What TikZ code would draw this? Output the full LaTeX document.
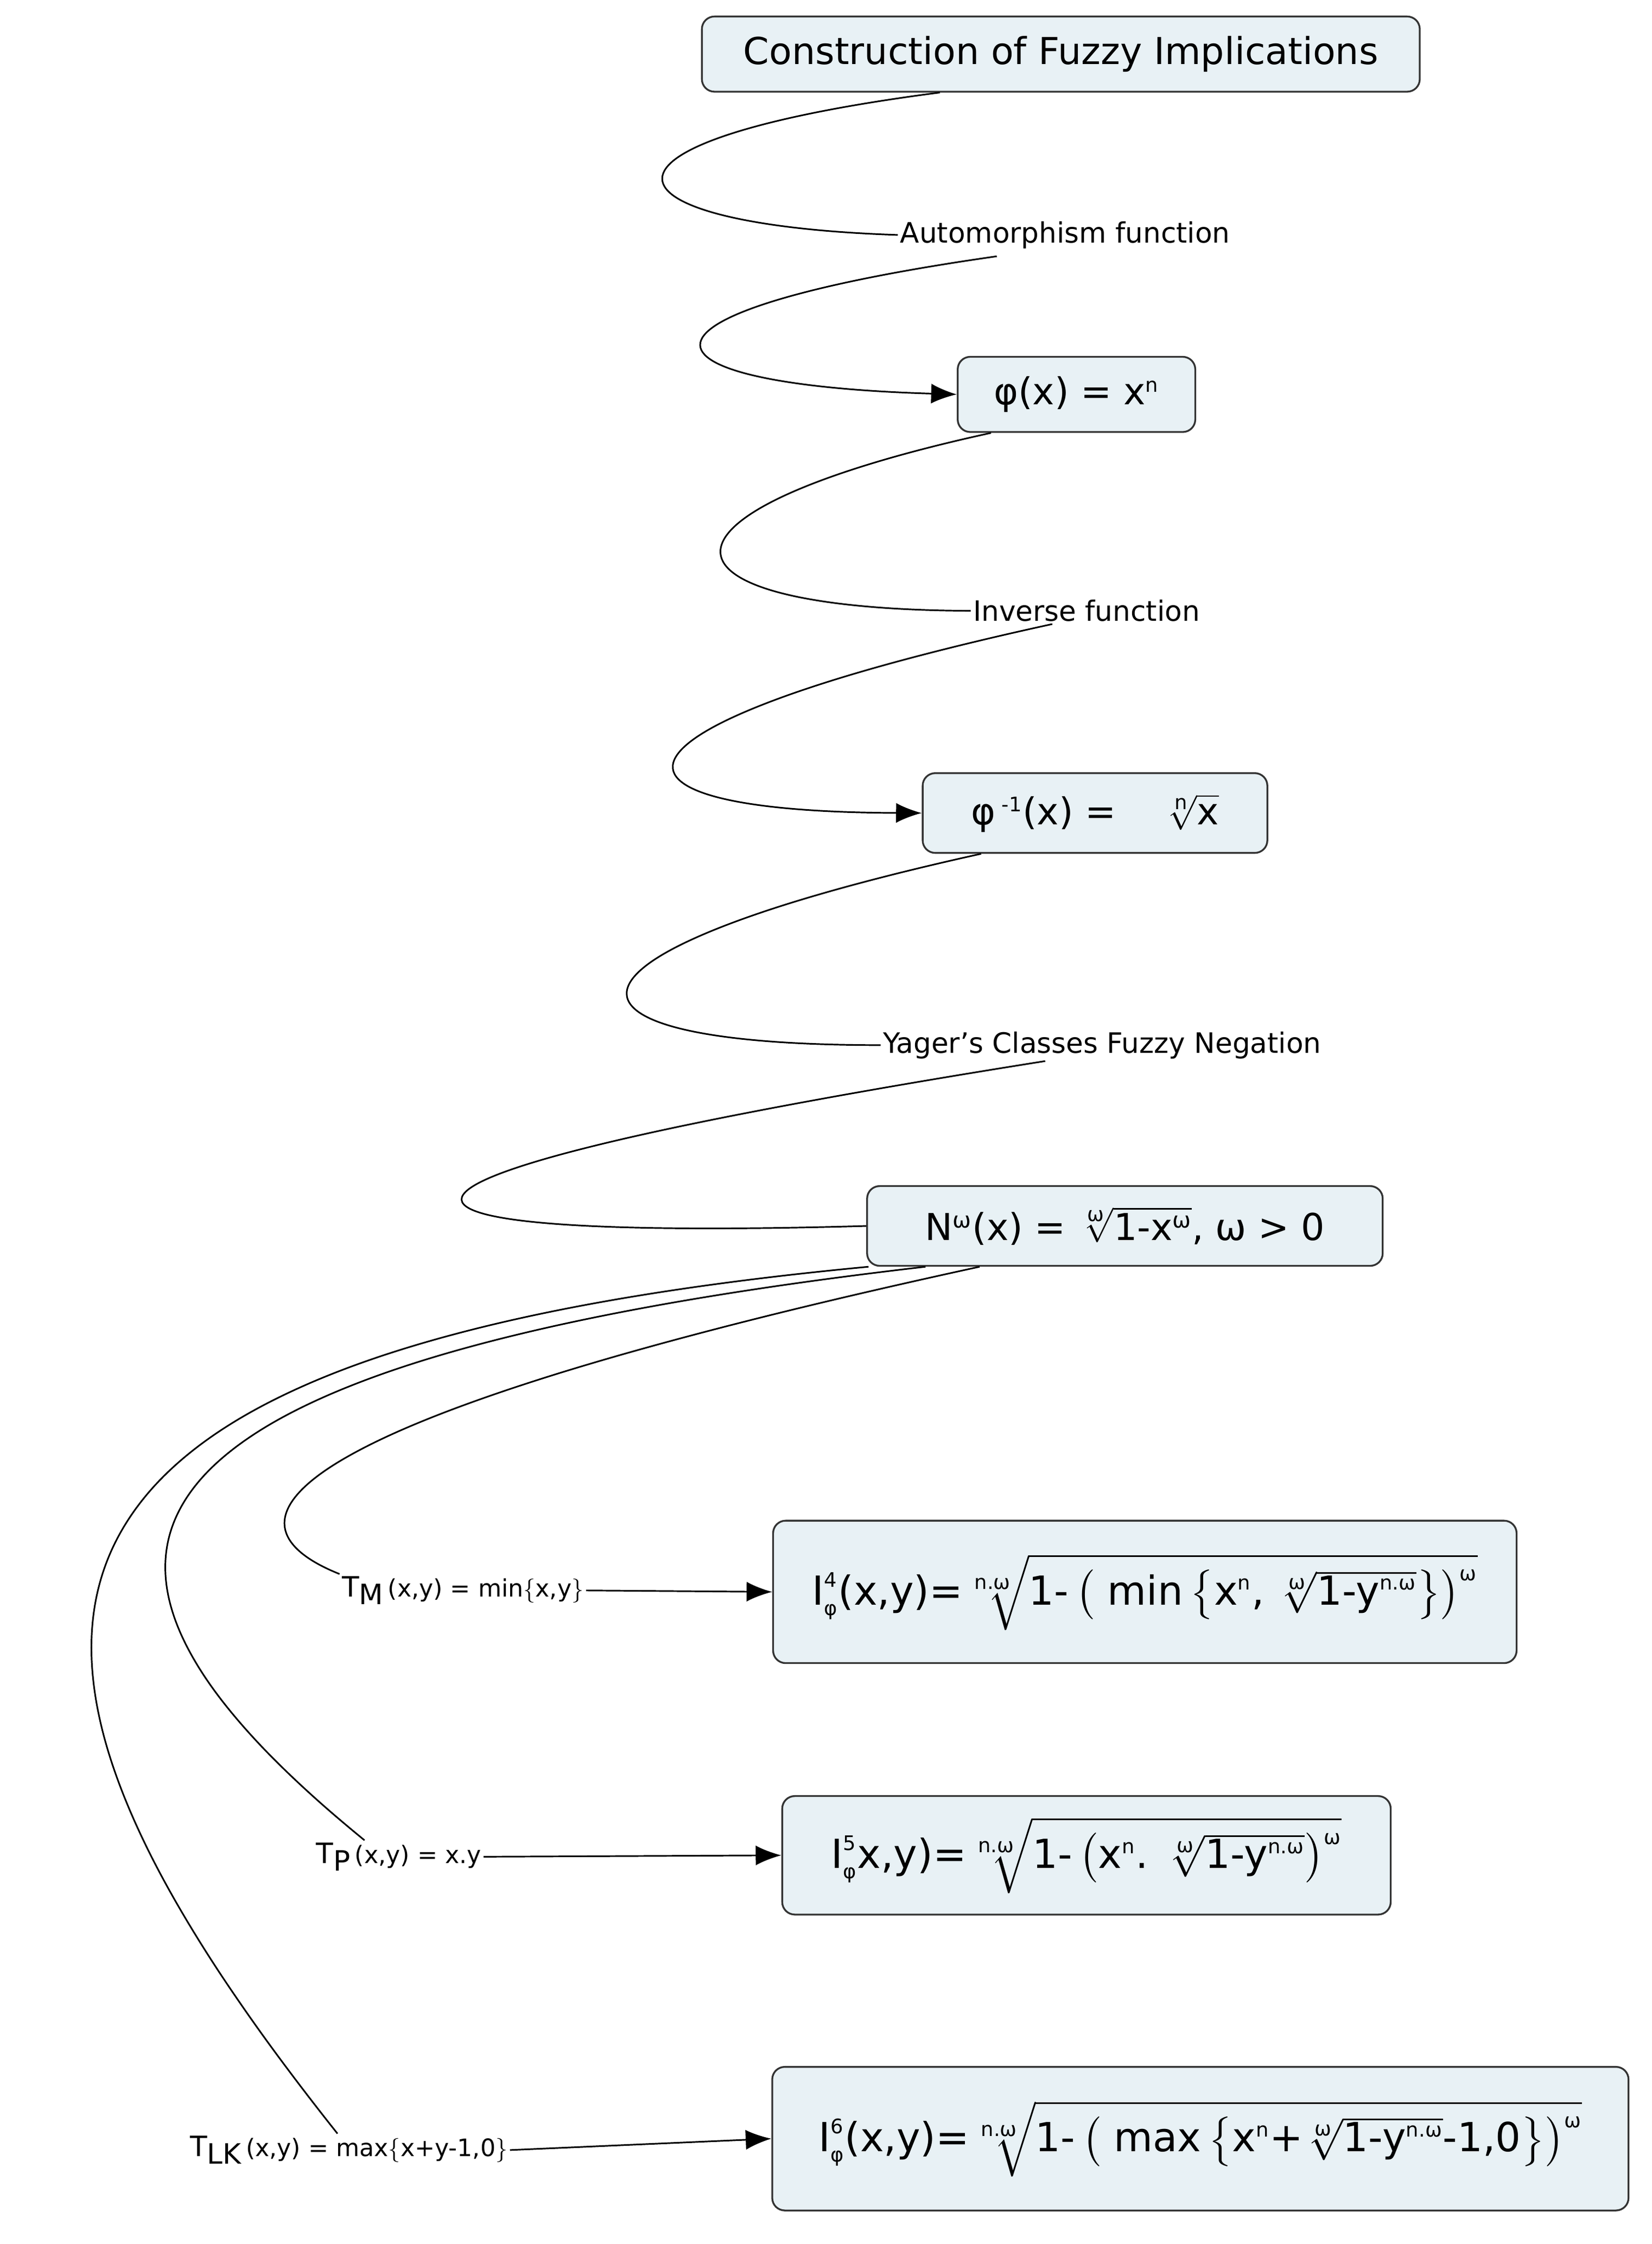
\documentclass[tikz,border=0pt]{standalone}
\usepackage{amsmath}
\usepackage{fontspec}
\setmainfont{DejaVu Sans}
\usetikzlibrary{arrows.meta}
\newcommand{\sm}[1]{\text{\fontsize{10}{10}\selectfont #1}}
\begin{document}
\begin{tikzpicture}[x=0.025cm,y=-0.025cm,
 box/.style={draw=black!80,line width=0.9pt,fill={rgb,255:red,232;green,241;blue,245},rounded corners=0.22cm,inner sep=0pt,font=\fontsize{18.5}{22}\selectfont},
 fbox/.style={box,font=\fontsize{20}{24}\selectfont},
 lab/.style={inner sep=1pt,font=\fontsize{14}{16}\selectfont},
 tl/.style={inner sep=1pt,font=\fontsize{14}{16}\selectfont},
 con/.style={line width=0.8pt},
 arr/.style={con,-{Latex[length=0.45cm,width=0.35cm]}}]
\useasboundingbox (0,0) rectangle (1160,1576);
\node[box,minimum width=12.6cm,minimum height=1.32cm] (title) at (745,38) {Construction of Fuzzy Implications};
\node[lab] (auto) at (748,165) {Automorphism function};
\node[box,minimum width=4.17cm,minimum height=1.32cm] (phi) at (756,277) {φ(x) = x\textsuperscript{\fontsize{10}{10}\selectfont n}};
\node[lab] (inv) at (763,429) {Inverse function};
\node[box,minimum width=6.05cm,minimum height=1.4cm] (phii) at (769,571) {φ\,\textsuperscript{\fontsize{10}{10}\selectfont -1}(x) = \quad $\sqrt[\sm{n}]{\text{x}}$};
\node[lab] (yag) at (774,734) {Yager's Classes Fuzzy Negation};
\node[box,minimum width=9.05cm,minimum height=1.4cm] (neg) at (790,861) {N\textsuperscript{\fontsize{11}{11}\selectfont ω}(x) = $\sqrt[\sm{ω}]{\text{1-x\textsuperscript{\fontsize{11}{11}\selectfont ω}}}$, ω > 0};
\node[tl] (tm) at (325,1117) {T\raisebox{-0.5ex}{M}\,{\fontsize{12}{14}\selectfont(x,y) = min$\{$x,y$\}$}};
\node[tl] (tp) at (280,1304) {T\raisebox{-0.5ex}{P}\,{\fontsize{12}{14}\selectfont(x,y) = x.y}};
\node[tl] (tlk) at (245,1510) {T\raisebox{-0.5ex}{LK}\,{\fontsize{12}{14}\selectfont(x,y) = max$\{$x+y-1,0$\}$}};
\node[fbox,minimum width=13.05cm,minimum height=2.5cm] (i4) at (804,1118) {$\text{I}^{\sm{4}}_{\sm{φ}}\text{(x,y)=}\sqrt[\sm{n.ω}]{\text{1-}\left(\text{ min}\left\{\text{x\textsuperscript{\fontsize{10}{10}\selectfont n}, }\sqrt[\sm{ω}]{\text{1-y\textsuperscript{\fontsize{10}{10}\selectfont n.ω}}}\right\}\right)^{\sm{ω}}}$};
\node[fbox,minimum width=10.68cm,minimum height=2.08cm] (i5) at (763,1303) {$\text{I}^{\sm{5}}_{\sm{φ}}\text{x,y)=}\sqrt[\sm{n.ω}]{\text{1-}\left(\text{x\textsuperscript{\fontsize{10}{10}\selectfont n}. }\sqrt[\sm{ω}]{\text{1-y\textsuperscript{\fontsize{10}{10}\selectfont n.ω}}}\right)^{\sm{ω}}}$};
\node[fbox,minimum width=15.03cm,minimum height=2.52cm] (i6) at (843,1502) {$\text{I}^{\sm{6}}_{\sm{φ}}\text{(x,y)=}\sqrt[\sm{n.ω}]{\text{1-}\left(\text{ max}\left\{\text{x\textsuperscript{\fontsize{10}{10}\selectfont n}+}\sqrt[\sm{ω}]{\text{1-y\textsuperscript{\fontsize{10}{10}\selectfont n.ω}}}\text{-1,0}\right\}\right)^{\sm{ω}}}$};
\coordinate (a1) at (660,65); \coordinate (b1) at (700,180);
\draw[con] (a1) .. controls (390,100) and (420,158) .. (auto.west);
\draw[arr] (b1) .. controls (420,220) and (440,270) .. (phi.west);
\draw[con] ([xshift=-1.5cm]phi.south) .. controls (440,360) and (450,428) .. (inv.west);
\draw[arr] ([xshift=-0.6cm]inv.south) .. controls (410,510) and (400,570) .. (phii.west);
\draw[con] ([xshift=-2cm]phii.south) .. controls (370,670) and (370,734) .. (yag.west);
\draw[con] ([xshift=-1cm]yag.south) .. controls (200,830) and (220,872) .. (neg.west);
\draw[con] ([xshift=-2.55cm]neg.south) .. controls (180,1000) and (150,1070) .. (tm.north west);
\draw[con] ([xshift=-3.5cm]neg.south) .. controls (40,960) and (20,1100) .. ([xshift=-0.6cm]tp.north);
\draw[con] ([xshift=-4.5cm]neg.south) .. controls (-30,950) and (-40,1150) .. ([xshift=-0.2cm]tlk.north);
\draw[arr] (tm.east) -- (i4.west);
\draw[arr] (tp.east) -- (i5.west);
\draw[arr] (tlk.east) -- (i6.west);
\end{tikzpicture}
\end{document}
